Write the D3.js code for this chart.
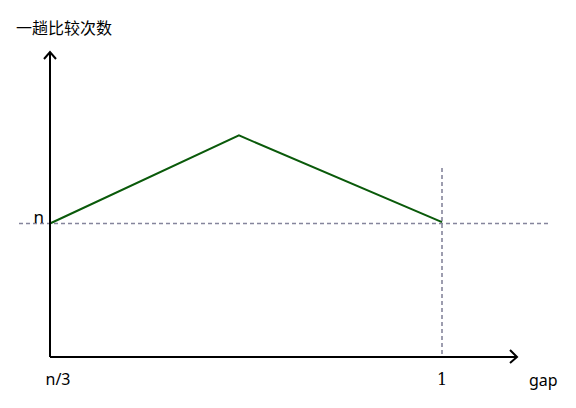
<!DOCTYPE html>
<html>
<head>
<meta charset="utf-8">
<script src="https://cdn.jsdelivr.net/npm/d3@7"></script>
<style>
  body { margin: 0; background: #fff; }
  text { font-family: "Noto Sans", "Noto Sans CJK SC", sans-serif; }
</style>
</head>
<body>
<script>
'use strict';

// data: position along gap (0 = n/3, 1 = 1) and comparisons (1 = n)
var gapPos = [0, 0.482, 1];
var comparisons = [1, 1.66, 1.01];
var tickLabels = ['n/3', '1'];
var tickPos = [0, 1];
var refLevel = 1; // the "n" level

var width = 576, height = 408;
var x0 = 50, y0 = 357;

var x = d3.scaleLinear().domain([0, 1]).range([x0, 442]);
var y = d3.scaleLinear().domain([0, 2.3]).range([y0, 50]);

var svg = d3.select('body').append('svg')
  .attr('width', width)
  .attr('height', height);

// dotted guide lines
svg.append('line')
  .attr('x1', 19).attr('x2', 548)
  .attr('y1', y(refLevel)).attr('y2', y(refLevel))
  .attr('stroke', '#85859c').attr('stroke-width', 1.6)
  .attr('stroke-dasharray', '4,3');

svg.append('line')
  .attr('x1', x(1)).attr('x2', x(1))
  .attr('y1', 168).attr('y2', y0)
  .attr('stroke', '#85859c').attr('stroke-width', 1.6)
  .attr('stroke-dasharray', '4,3');

// the curve
var line = d3.line()
  .x(function (d, i) { return x(gapPos[i]); })
  .y(function (d) { return y(d); });

svg.append('path')
  .datum(comparisons)
  .attr('d', line)
  .attr('fill', 'none')
  .attr('stroke', '#0a5a0a')
  .attr('stroke-width', 2);

// axes with arrows
svg.append('path')
  .attr('d', 'M' + x0 + ',' + y0 + 'V52 M44,59 L' + x0 + ',52 L56,59')
  .attr('fill', 'none').attr('stroke', '#000').attr('stroke-width', 2);

svg.append('path')
  .attr('d', 'M' + x0 + ',' + y0 + 'H517 M510,350 L517,' + y0 + ' L510,363')
  .attr('fill', 'none').attr('stroke', '#000').attr('stroke-width', 2);

// labels
svg.append('text')
  .attr('x', 16).attr('y', 34)
  .style('font-family', '"Noto Sans CJK SC"')
  .style('font-size', '16px')
  .text('一趟比较次数');

svg.append('text')
  .attr('x', 44).attr('y', y(refLevel) - 1)
  .attr('text-anchor', 'end')
  .style('font-size', '17px')
  .text('n');

svg.selectAll('.tick')
  .data(tickLabels)
  .enter().append('text')
  .attr('class', 'tick')
  .attr('x', function (d, i) { return x(tickPos[i]) + (i === 0 ? 8 : 0); })
  .attr('y', 385)
  .attr('text-anchor', 'middle')
  .style('font-family', function (d, i) { return i === 1 ? '"DejaVu Serif"' : null; })
  .style('font-size', '16px')
  .text(function (d) { return d; });

svg.append('text')
  .attr('x', 529).attr('y', 386)
  .style('font-size', '16px')
  .text('gap');
</script>
</body>
</html>
